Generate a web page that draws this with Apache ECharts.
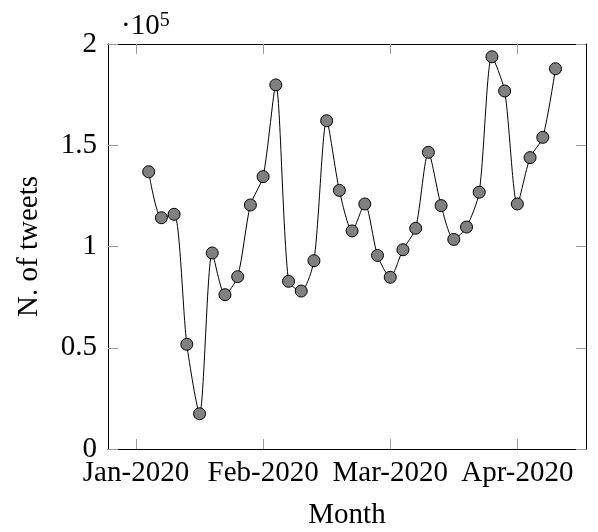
<!DOCTYPE html>
<html>
<head>
<meta charset="utf-8">
<script src="https://cdn.jsdelivr.net/npm/echarts@6/dist/echarts.min.js"></script>
<style>
  html, body { margin: 0; padding: 0; background: #fff; }
  #chart { width: 598px; height: 532px; }
</style>
</head>
<body>
<div id="chart"></div>
<script>
  // tweets per sample (every ~3 days), index 1..33
  const tweets = [
    136900, 114200, 115900, 51700, 17400, 96800, 76200, 85100, 120500, 134500,
    179800, 82800, 78000, 93000, 162100, 127700, 107700, 121000, 95600, 84800,
    98400, 109000, 146500, 120200, 103500, 109600, 126800, 193700, 176800, 121000,
    143900, 153900, 187800
  ]
  const monthTicks = [0, 10, 20, 30]
  const monthLabels = ['Jan-2020', 'Feb-2020', 'Mar-2020', 'Apr-2020']

  const points = tweets.map((v, i) => [i + 1, v])
  const font = 'Liberation Serif'
  const tickStyle = { color: '#9a9a9a', width: 1 }

  const chart = echarts.init(document.getElementById('chart'))
  chart.setOption({
    animation: false,
    backgroundColor: '#fff',
    title: {
      left: 116,
      top: 6,
      text: '·10{s|5}',
      textStyle: {
        fontFamily: font,
        fontSize: 29,
        fontWeight: 'normal',
        color: '#000',
        rich: { s: { fontFamily: font, fontSize: 20, verticalAlign: 'top', color: '#000', padding: [0, 0, 10, 0] } }
      }
    },
    grid: { left: 108, top: 44, right: 12, bottom: 83, containLabel: false, outerBoundsMode: 'none' },
    xAxis: [
      {
        type: 'value',
        min: -2.2,
        max: 35.4,
        name: 'Month',
        nameLocation: 'middle',
        nameGap: 52,
        nameTextStyle: { fontFamily: font, fontSize: 29, color: '#000' },
        axisLine: { onZero: false, lineStyle: { color: '#000', width: 1 } },
        axisTick: { inside: true, length: 10, lineStyle: tickStyle, customValues: monthTicks },
        axisLabel: {
          customValues: monthTicks,
          formatter: v => monthLabels[monthTicks.indexOf(v)],
          fontFamily: font, fontSize: 29, color: '#000', margin: 10
        },
        splitLine: { show: false }
      },
      {
        type: 'value',
        position: 'top',
        min: -2.2,
        max: 35.4,
        axisLine: { onZero: false, lineStyle: { color: '#000', width: 1 } },
        axisTick: { inside: true, length: 10, lineStyle: tickStyle, customValues: monthTicks },
        axisLabel: { show: false },
        splitLine: { show: false }
      }
    ],
    yAxis: [
      {
        type: 'value',
        min: 0,
        max: 200000,
        interval: 50000,
        name: 'N. of tweets',
        nameLocation: 'middle',
        nameGap: 64,
        nameTextStyle: { fontFamily: font, fontSize: 29, color: '#000' },
        axisLine: { show: true, onZero: false, lineStyle: { color: '#000', width: 1 } },
        axisTick: { inside: true, length: 10, lineStyle: tickStyle },
        axisLabel: {
          formatter: v => String(v / 100000),
          fontFamily: font, fontSize: 29, color: '#000', margin: 11
        },
        splitLine: { show: false }
      },
      {
        type: 'value',
        position: 'right',
        min: 0,
        max: 200000,
        interval: 50000,
        axisLine: { show: true, onZero: false, lineStyle: { color: '#000', width: 1 } },
        axisTick: { show: true, inside: true, length: 10, lineStyle: tickStyle },
        axisLabel: { show: false },
        splitLine: { show: false }
      }
    ],
    series: [
      {
        type: 'line',
        data: points,
        smooth: 0.25,
        symbol: 'circle',
        symbolSize: 12,
        lineStyle: { color: '#000', width: 1 },
        itemStyle: { color: '#808080', borderColor: '#000', borderWidth: 1 }
      }
    ]
  })
</script>
</body>
</html>
